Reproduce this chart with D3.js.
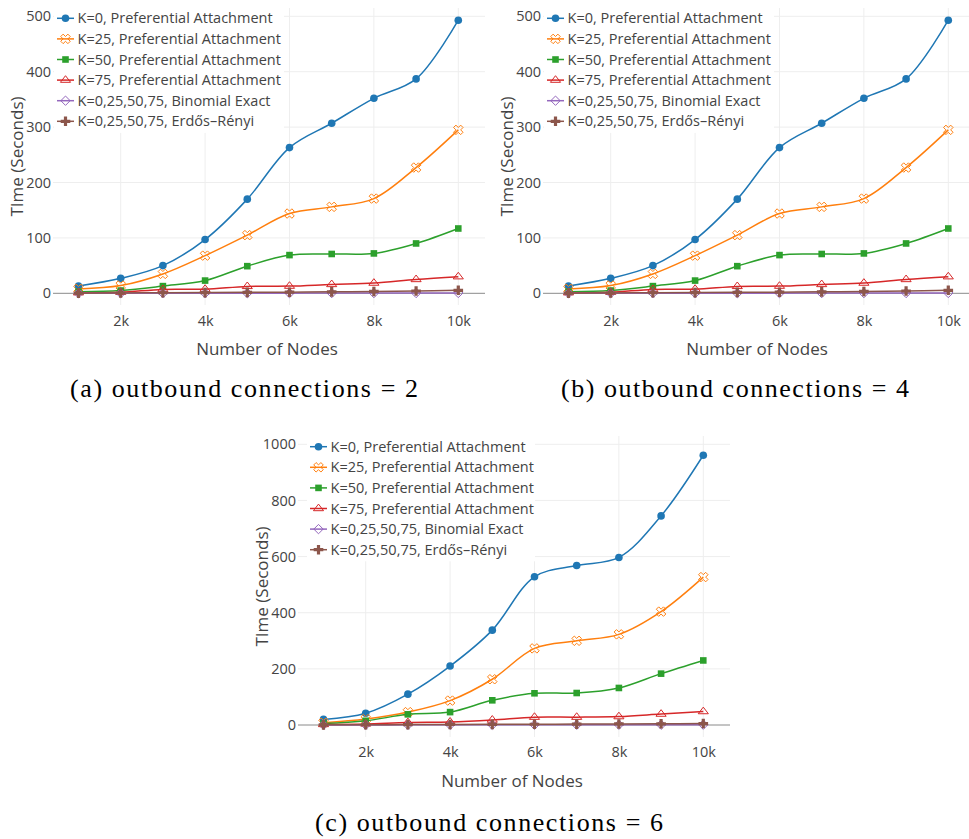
<!DOCTYPE html>
<html>
<head>
<meta charset="utf-8">
<script src="https://cdn.jsdelivr.net/npm/d3@7/dist/d3.min.js"></script>
<style>
  body { margin: 0; background: #fff; }
  svg text { font-family: "Open Sans", "DejaVu Sans", sans-serif; fill: #444; }
  svg text.caption { font-family: "Liberation Serif", "Times New Roman", serif; fill: #000; font-weight: normal; }
</style>
</head>
<body>
<svg id="fig" width="969" height="839"></svg>
<script>
// Graph sizes (number of nodes) on the x axis
const nodes = [1000, 2000, 3000, 4000, 5000, 6000, 7000, 8000, 9000, 10000];
const xTickValues = [2000, 4000, 6000, 8000, 10000];
const xTickLabels = ["2k", "4k", "6k", "8k", "10k"];

const seriesNames = [
  "K=0, Preferential Attachment",
  "K=25, Preferential Attachment",
  "K=50, Preferential Attachment",
  "K=75, Preferential Attachment",
  "K=0,25,50,75, Binomial Exact",
  "K=0,25,50,75, Erdős–Rényi"
];

// Running time in seconds, outbound connections = 2
const out2K0  = [13, 27, 50, 97, 170, 263, 307, 352, 387, 493];
const out2K25 = [8, 14, 35, 68, 105, 144, 156, 171, 227, 295];
const out2K50 = [3, 5, 13, 23, 49, 69, 71, 72, 90, 117];
const out2K75 = [1, 2, 7, 7.5, 12.5, 13, 16, 18.5, 25, 30];
const out2Bin = [0.1, 0.1, 0.2, 0.2, 0.3, 0.3, 0.4, 0.4, 0.5, 0.6];
const out2ER  = [0.3, 0.6, 1, 1.3, 1.7, 2, 2.6, 3.4, 4.2, 5.4];

// Running time in seconds, outbound connections = 4
const out4K0  = [13, 27, 50, 97, 170, 263, 307, 352, 387, 493];
const out4K25 = [8, 14, 35, 68, 105, 144, 156, 171, 227, 295];
const out4K50 = [3, 5, 13, 23, 49, 69, 71, 72, 90, 117];
const out4K75 = [1, 2, 7, 7.5, 12.5, 13, 16, 18.5, 25, 30];
const out4Bin = [0.1, 0.1, 0.2, 0.2, 0.3, 0.3, 0.4, 0.4, 0.5, 0.6];
const out4ER  = [0.3, 0.6, 1, 1.3, 1.7, 2, 2.6, 3.4, 4.2, 5.4];

// Running time in seconds, outbound connections = 6
const out6K0  = [20, 42, 110, 210, 338, 528, 568, 597, 745, 961];
const out6K25 = [8, 21, 46, 87, 163, 273, 300, 323, 404, 527];
const out6K50 = [5, 15, 38, 46, 88, 113, 114, 132, 183, 230];
const out6K75 = [2, 4, 9, 11, 18, 28, 28, 30, 39, 48];
const out6Bin = [0.3, 0.4, 0.5, 0.6, 0.7, 0.8, 0.9, 1, 1.1, 1.2];
const out6ER  = [0.6, 1, 1.5, 2, 2.4, 2.8, 3.2, 3.8, 4.4, 5.2];

const out2Ticks = [0, 100, 200, 300, 400, 500];
const out4Ticks = [0, 100, 200, 300, 400, 500];
const out6Ticks = [0, 200, 400, 600, 800, 1000];

const colors = ["#1f77b4", "#ff7f0e", "#2ca02c", "#d62728", "#9467bd", "#8c564b"];

// Marker outlines (same geometry as the plotly symbol set)
const symbols = {
  circle: r => `M${r},0A${r},${r} 0 1,1 0,-${r}A${r},${r} 0 0,1 ${r},0Z`,
  square: r => `M${r},${r}H-${r}V-${r}H${r}Z`,
  x: r => {
    const a = r * 0.8 / Math.SQRT2;
    const ne = `l${a},${a}`, se = `l${a},-${a}`, sw = `l-${a},-${a}`, nw = `l-${a},${a}`;
    return `M0,${a}` + ne + se + sw + se + sw + nw + sw + nw + ne + nw + ne + "Z";
  },
  triangle: r => {
    const rt = r * 2 / Math.sqrt(3), r2 = r / 2;
    return `M-${rt},${r2}H${rt}L0,-${r}Z`;
  },
  diamond: r => {
    const d = r * 1.3;
    return `M${d},0L0,${d}L-${d},0L0,-${d}Z`;
  },
  cross: r => {
    const a = r * 0.4, b = r * 1.2;
    return `M${b},${a}H${a}V${b}H-${a}V${a}H-${b}V-${a}H-${a}V-${b}H${a}V-${a}H${b}Z`;
  }
};
const markerStyle = [
  { sym: "circle", open: false, r: 3.8 },
  { sym: "x", open: true, r: 4.2 },
  { sym: "square", open: false, r: 3.3 },
  { sym: "triangle", open: true, r: 4.4 },
  { sym: "diamond", open: true, r: 3.6 },
  { sym: "cross", open: false, r: 4.0 }
];

const panels = [
  { series: [out2K0, out2K25, out2K50, out2K75, out2Bin, out2ER], ticks: out2Ticks,
    yDomain: [-21.1, 515], left: 53, right: 485, top: 8, bottom: 305,
    legendX: 57, legendY: 18.3, legendW: 230,
    caption: "(a) outbound connections = 2", capX: 244, capY: 397 },
  { series: [out4K0, out4K25, out4K50, out4K75, out4Bin, out4ER], ticks: out4Ticks,
    yDomain: [-21.1, 515], left: 543, right: 975, top: 8, bottom: 305,
    legendX: 547, legendY: 18.3, legendW: 230,
    caption: "(b) outbound connections = 4", capX: 735, capY: 397 },
  { series: [out6K0, out6K25, out6K50, out6K75, out6Bin, out6ER], ticks: out6Ticks,
    yDomain: [-42.7, 1029.6], left: 298, right: 730, top: 436, bottom: 737,
    legendX: 310, legendY: 446.7, legendW: 228,
    caption: "(c) outbound connections = 6", capX: 489, capY: 831 }
];

const svg = d3.select("#fig");

function drawMarker(g, i, color) {
  const m = markerStyle[i];
  return g.append("path")
    .attr("d", symbols[m.sym](m.r))
    .attr("fill", m.open ? "none" : color)
    .attr("stroke", m.open ? color : "none")
    .attr("stroke-width", m.open ? 1 : 0);
}

panels.forEach(p => {
  const g = svg.append("g");
  const x = d3.scaleLinear().domain([396, 10633]).range([p.left, p.right]);
  const y = d3.scaleLinear().domain(p.yDomain).range([p.bottom, p.top]);

  // grid
  g.append("g").selectAll("line").data(xTickValues).join("line")
    .attr("x1", d => x(d)).attr("x2", d => x(d))
    .attr("y1", p.top).attr("y2", p.bottom)
    .attr("stroke", "#eeeeee").attr("stroke-width", 1);
  g.append("g").selectAll("line").data(p.ticks.filter(t => t !== 0)).join("line")
    .attr("x1", p.left).attr("x2", p.right)
    .attr("y1", d => y(d)).attr("y2", d => y(d))
    .attr("stroke", "#eeeeee").attr("stroke-width", 1);

  // zero line
  g.append("line")
    .attr("x1", p.left).attr("x2", p.right)
    .attr("y1", y(0)).attr("y2", y(0))
    .attr("stroke", "#8a8a8a").attr("stroke-width", 1);

  // tick labels
  const yAxis = d3.axisLeft(y).tickValues(p.ticks).tickFormat(d3.format("d"))
    .tickSize(0).tickPadding(2);
  const ya = g.append("g").attr("transform", `translate(${p.left},0)`).call(yAxis);
  ya.select(".domain").remove();
  ya.selectAll("text").attr("font-size", "14.5px").attr("fill", "#444")
    .style("font-family", '"Open Sans", sans-serif');

  const xAxis = d3.axisBottom(x).tickValues(xTickValues)
    .tickFormat((d, i) => xTickLabels[i]).tickSize(0).tickPadding(0);
  const xa = g.append("g").attr("transform", `translate(0,${y(0) + 22})`).call(xAxis);
  xa.select(".domain").remove();
  xa.selectAll("text").attr("font-size", "14.5px").attr("fill", "#444")
    .style("font-family", '"Open Sans", sans-serif');

  // axis titles
  g.append("text")
    .attr("x", (p.left + p.right) / 2 - 2)
    .attr("y", y(0) + 62)
    .attr("text-anchor", "middle")
    .attr("font-size", "17px")
    .text("Number of Nodes");
  g.append("text")
    .attr("transform", `translate(${p.left - 30},${(p.top + p.bottom) / 2}) rotate(-90)`)
    .attr("text-anchor", "middle")
    .attr("font-size", "17px")
    .text("TIme (Seconds)");

  // series
  const line = d3.line()
    .x((d, i) => x(nodes[i]))
    .y(d => y(d))
    .curve(d3.curveCatmullRom.alpha(0.5));

  p.series.forEach((vals, si) => {
    const sg = g.append("g");
    sg.append("path")
      .attr("d", line(vals))
      .attr("fill", "none")
      .attr("stroke", colors[si])
      .attr("stroke-width", 1.5);
    vals.forEach((v, i) => {
      drawMarker(sg, si, colors[si])
        .attr("transform", `translate(${x(nodes[i])},${y(v)})`);
    });
  });

  // legend
  const lg = g.append("g");
  lg.append("rect")
    .attr("x", p.legendX - 3).attr("y", p.legendY - 11)
    .attr("width", p.legendW).attr("height", 20.6 * 6 + 2)
    .attr("fill", "#fff");
  seriesNames.forEach((name, si) => {
    const cy = p.legendY + si * 20.6;
    lg.append("line")
      .attr("x1", p.legendX).attr("x2", p.legendX + 17)
      .attr("y1", cy).attr("y2", cy)
      .attr("stroke", colors[si]).attr("stroke-width", 1.5);
    drawMarker(lg, si, colors[si])
      .attr("transform", `translate(${p.legendX + 8.5},${cy})`);
    lg.append("text")
      .attr("x", p.legendX + 20.5)
      .attr("y", cy)
      .attr("dy", "0.35em")
      .attr("font-size", "14.5px")
      .attr("fill", "#333")
      .text(name);
  });

  // caption
  svg.append("text")
    .attr("class", "caption")
    .attr("x", p.capX)
    .attr("y", p.capY)
    .attr("text-anchor", "middle")
    .attr("font-size", "26px")
    .attr("textLength", 348)
    .attr("lengthAdjust", "spacing")
    .text(p.caption);
});
</script>
</body>
</html>
